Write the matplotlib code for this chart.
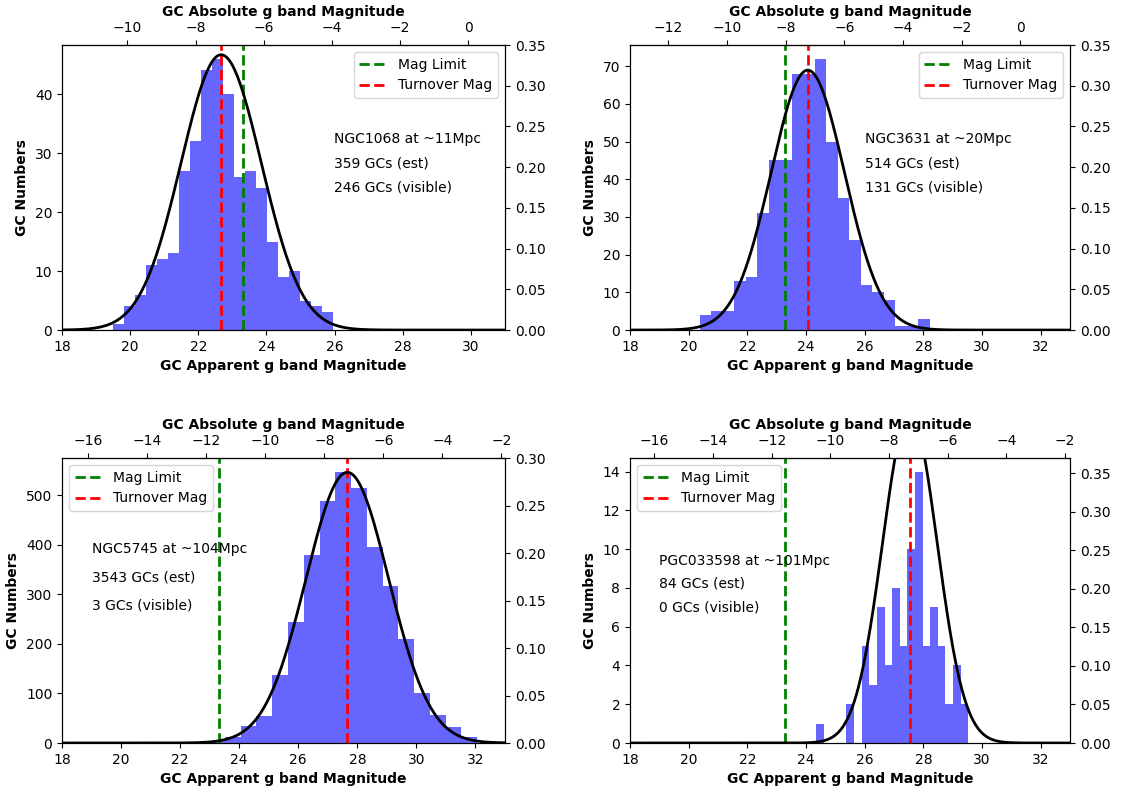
import numpy as np
import matplotlib
matplotlib.use("Agg")
import matplotlib.pyplot as plt

# galaxies, distances and GC counts
names = ["NGC1068", "NGC3631", "NGC5745", "PGC033598"]
dist_mpc = [11, 20, 104, 101]
n_est = [359, 514, 3543, 84]
n_visible = [246, 131, 3, 0]

mag_limit = 23.3
turnover = [22.67, 24.06, 27.66, 27.54]   # apparent g mag of GCLF turnover
dist_mod = [29.92, 31.31, 34.88, 34.83]   # apparent - absolute
gclf_sigma = [1.18, 1.25, 1.40, 0.93]

# histogram bins (20 bins between lo and hi)
bins_lo = [19.50, 20.38, 21.38, 24.34]
bins_hi = [25.94, 28.21, 32.06, 29.53]

counts_ngc1068 = [1, 4, 6, 11, 12, 13, 27, 32, 44, 46,
                  40, 26, 27, 24, 15, 9, 10, 5, 4, 3]
counts_ngc3631 = [4, 5, 5, 13, 14, 31, 45, 45, 68, 68,
                  72, 50, 35, 24, 12, 10, 8, 1, 1, 3]
counts_ngc5745 = [1, 0, 2, 4, 12, 35, 55, 137, 244, 379,
                  488, 548, 514, 396, 318, 209, 101, 56, 32, 12]
counts_pgc033598 = [1, 0, 0, 0, 2, 0, 5, 3, 7, 4,
                    8, 5, 10, 14, 5, 7, 5, 2, 4, 2]
counts = [counts_ngc1068, counts_ngc3631, counts_ngc5745, counts_pgc033598]

x_max = [31, 33, 33, 33]
right_top = [0.35, 0.35, 0.30, 0.37]

# layout (figure fractions)
ax_pos = [[0.0553, 0.5817, 0.3948, 0.3612],
          [0.5615, 0.5817, 0.3922, 0.3612],
          [0.0553, 0.0583, 0.3948, 0.3612],
          [0.5615, 0.0583, 0.3922, 0.3612]]
text_x = [0.614, 0.534, 0.067, 0.067]
text_y = [[0.670, 0.585, 0.499],
          [0.670, 0.585, 0.499],
          [0.681, 0.582, 0.481],
          [0.639, 0.558, 0.474]]
legend_loc = ["upper right", "upper right", "upper left", "upper left"]

fig = plt.figure(figsize=(11.22, 7.89), dpi=100)

for i in range(4):
    ax = fig.add_axes(ax_pos[i])
    edges = np.linspace(bins_lo[i], bins_hi[i], len(counts[i]) + 1)
    centers = 0.5 * (edges[:-1] + edges[1:])
    ax.hist(centers, bins=edges, weights=counts[i], color="blue", alpha=0.6)
    ax.axvline(mag_limit, color="green", ls="--", lw=2, label="Mag Limit")
    ax.axvline(turnover[i], color="red", ls="--", lw=2, label="Turnover Mag")
    ax.set_xlim(18, x_max[i])
    ax.set_xlabel("GC Apparent g band Magnitude", fontweight="bold")
    ax.set_ylabel("GC Numbers", fontweight="bold")
    ax.legend(loc=legend_loc[i])

    lines = [f"{names[i]} at ~{dist_mpc[i]}Mpc",
             f"{n_est[i]} GCs (est)",
             f"{n_visible[i]} GCs (visible)"]
    for s, ty in zip(lines, text_y[i]):
        ax.text(text_x[i], ty, s, transform=ax.transAxes, va="center", fontsize=10)

    # gaussian GCLF on the right axis
    ax2 = ax.twinx()
    xs = np.linspace(18, x_max[i], 600)
    mu, sig = turnover[i], gclf_sigma[i]
    pdf = np.exp(-0.5 * ((xs - mu) / sig) ** 2) / (sig * np.sqrt(2 * np.pi))
    ax2.plot(xs, pdf, color="black", lw=2)
    ax2.set_ylim(0, right_top[i])
    ax2.set_xlim(18, x_max[i])

    # absolute magnitude on top
    dm = dist_mod[i]
    top = ax.secondary_xaxis("top", functions=(lambda x, dm=dm: x - dm,
                                               lambda x, dm=dm: x + dm))
    lo = np.ceil((18 - dm) / 2) * 2
    top.set_xticks(np.arange(lo, x_max[i] - dm, 2))
    top.set_xlabel("GC Absolute g band Magnitude", fontweight="bold")

fig.savefig("out.png", dpi=100)
